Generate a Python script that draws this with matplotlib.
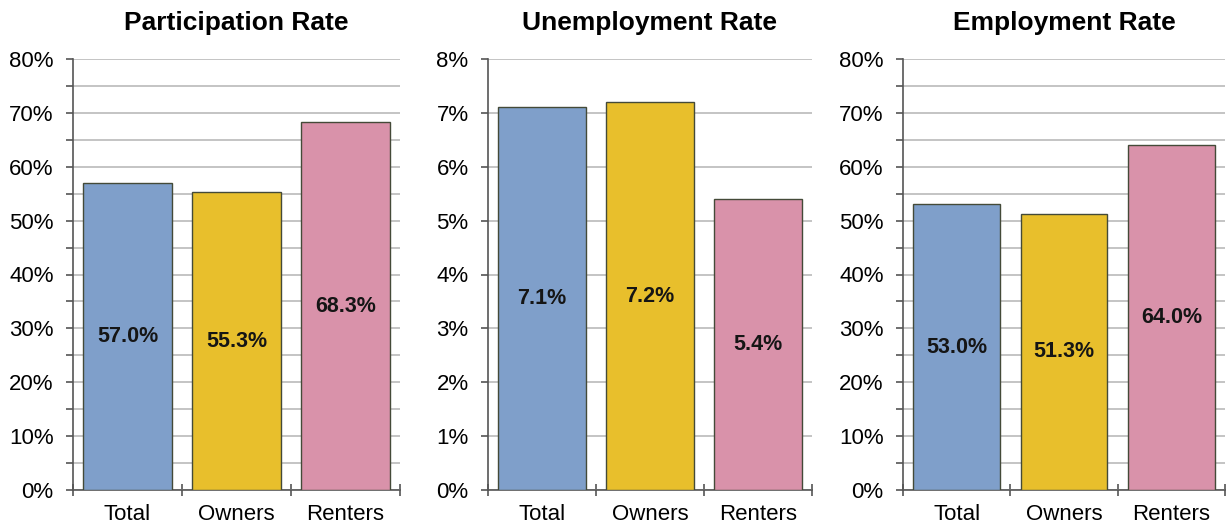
import numpy as np
import matplotlib.pyplot as plt
from matplotlib.ticker import MultipleLocator, FuncFormatter

plt.rcParams['font.family'] = ['Liberation Sans', 'DejaVu Sans']

categories = ['Total', 'Owners', 'Renters']
participation = [57.0, 55.3, 68.3]
unemployment = [7.1, 7.2, 5.4]
employment = [53.0, 51.3, 64.0]

titles = ['Participation Rate', 'Unemployment Rate', 'Employment Rate']
series = [participation, unemployment, employment]
ymax = [80, 8, 80]
colors = ['#7f9fca', '#e8bf2c', '#d992aa']

fig = plt.figure(figsize=(12.28, 5.27), dpi=100)
lefts = [73, 488, 903]
widths = [327, 324, 322]

for i in range(3):
    ax = fig.add_axes([lefts[i] / 1228, 37 / 527, widths[i] / 1228, 431 / 527])
    vals = series[i]
    x = np.arange(3)
    ax.bar(x, vals, width=0.81, color=colors, edgecolor='#444a38', linewidth=1.0, zorder=3)
    for xi, v in zip(x, vals):
        ax.text(xi, v / 2, f'{v:.1f}%', ha='center', va='center',
                fontsize=15.5, fontweight='bold', color='#151515', zorder=4)
    ax.set_xlim(-0.5, 2.5)
    ax.set_ylim(0, ymax[i])
    if ymax[i] == 80:
        ax.yaxis.set_major_locator(MultipleLocator(10))
        ax.yaxis.set_minor_locator(MultipleLocator(5))
    else:
        ax.yaxis.set_major_locator(MultipleLocator(1))
    ax.yaxis.set_major_formatter(FuncFormatter(lambda v, p: f'{v:.0f}%'))
    ax.grid(axis='y', which='both', color='#c4c4c4', linewidth=1.4, zorder=0)
    ax.set_axisbelow(True)

    ax.set_xticks(x)
    ax.set_xticklabels(categories, fontsize=16)
    ax.set_xticks([-0.5, 0.5, 1.5, 2.5], minor=True)
    ax.tick_params(axis='x', which='major', length=0, pad=10)
    ax.tick_params(axis='x', which='minor', length=8, direction='inout', color='#555555', width=1.2)
    ax.tick_params(axis='y', which='both', length=5, direction='out', color='#555555', width=1.2,
                   labelsize=16, pad=9)

    for s in ['top', 'right']:
        ax.spines[s].set_visible(False)
    for s in ['left', 'bottom']:
        ax.spines[s].set_color('#555555')
        ax.spines[s].set_linewidth(1.2)
    ax.set_title(titles[i], fontsize=19, fontweight='bold', pad=21)

fig.savefig('out.png', dpi=100)
